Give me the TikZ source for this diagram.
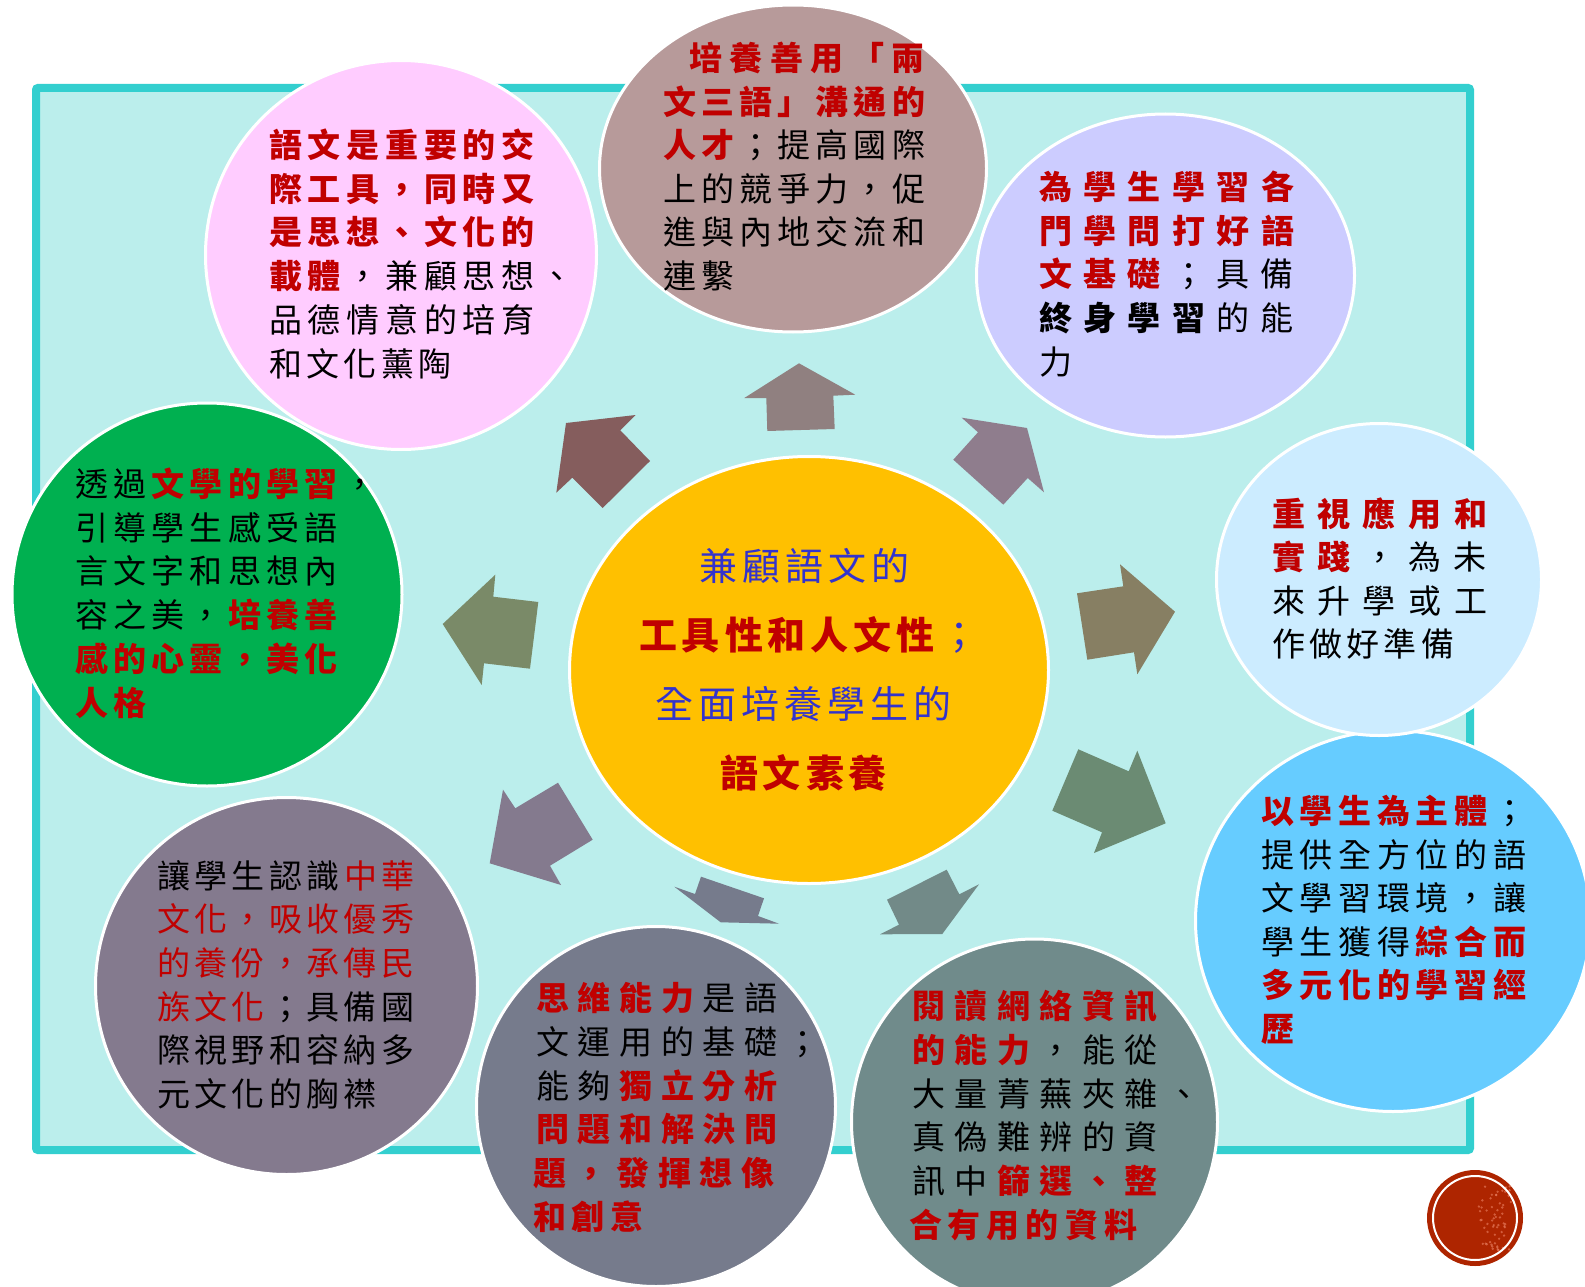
\documentclass[tikz,border=0pt]{standalone}
\usepackage{fontspec}
\usepackage{xcolor}
\usetikzlibrary{shapes.geometric}
\setmainfont{Noto Sans CJK TC}
\definecolor{txtred}{HTML}{C00000}
\definecolor{txtblue}{HTML}{3333CC}
\definecolor{panelfill}{HTML}{BBEEEC}
\definecolor{panelline}{HTML}{33CFCF}
\newlength\cpitch
\def\LSend{\LSend}
\def\LS#1{\LSi#1\LSend}
\def\LSi#1{\ifx#1\LSend\else\hbox to\cpitch{#1\hss}\expandafter\LSi\fi}
\newcommand\Rb[1]{{\color{txtred}\bfseries\LS{#1}}}
\newcommand\Rn[1]{{\color{txtred}\LS{#1}}}
\newcommand\Kn[1]{{\color{black}\LS{#1}}}
\newcommand\Kb[1]{{\color{black}\bfseries\LS{#1}}}
\newcommand\Bn[1]{{\color{txtblue}\LS{#1}}}
\newcommand\LN{\rule[-.12em]{0pt}{1em}}
\tikzset{
  x=1pt,y=-1pt,
  circ/.style={ellipse,draw=white,line width=3pt,inner sep=0pt,outer sep=0pt},
  tx/.style={anchor=north west,inner sep=0pt,outer sep=0pt,align=left,font=\fontsize{33pt}{#1pt}\selectfont},
  ctx/.style={anchor=north,inner sep=0pt,outer sep=0pt,align=center,font=\fontsize{38pt}{69pt}\selectfont},
}
\begin{document}
\begin{tikzpicture}
\useasboundingbox (0,0) rectangle (1585,1287);
% panel
\draw[draw=panelline,fill=panelfill,line width=8pt,rounded corners=2pt] (36,88) rectangle (1470,1150);
% block arrows
\fill[fill={rgb,255:red,133;green,93;blue,93}] (566,423)--(635.7,415)--(620.3,430.3)--(650,461)--(602.7,508)--(572.3,477.7)--(556.3,492.7)--cycle;
\fill[fill={rgb,255:red,122;green,138;blue,104}] (495.3,574.7)--(493.3,596.7)--(538.3,602)--(530,668.7)--(484,663.3)--(481.7,685)--(442.7,624)--cycle;
\fill[fill={rgb,255:red,144;green,128;blue,128}] (799,363.3)--(855.3,394.7)--(833.3,395.7)--(834.7,429)--(767.3,431)--(766.3,398)--(744.3,398)--cycle;
\fill[fill={rgb,255:red,143;green,125;blue,141}] (961.7,417.7)--(1027,428)--(1044,492.3)--(1027.7,478)--(1003.3,504.7)--(953.3,459.7)--(978,432.3)--cycle;
\fill[fill={rgb,255:red,135;green,127;blue,99}] (1120,564.3)--(1175,611.7)--(1137.3,674.3)--(1134,652.3)--(1087.3,659.7)--(1077,593.3)--(1123.3,586.3)--cycle;
\fill[fill={rgb,255:red,107;green,139;blue,115}] (1078.3,749.3)--(1128.7,771.3)--(1137.3,750.7)--(1165.7,823.3)--(1094,853)--(1102,832.3)--(1052.3,810.7)--cycle;
\fill[fill={rgb,255:red,114;green,138;blue,136}] (946.7,869.7)--(959.3,894.3)--(979,884.3)--(942.3,934)--(880,934.3)--(899,924.7)--(887,899.7)--cycle;
\fill[fill={rgb,255:red,118;green,123;blue,140}] (674.3,886.7)--(695,894)--(701,876.7)--(764,898.3)--(758,916)--(779,923.7)--(720.7,922.3)--cycle;
\fill[fill={rgb,255:red,132;green,122;blue,142}] (558,782.7)--(592.7,839.7)--(550,865.7)--(561,885)--(489.7,863.3)--(503,789.7)--(515.3,808.3)--cycle;
% circles
\node[circ,fill={rgb,255:red,0;green,176;blue,80},minimum width=390pt,minimum height=383pt] (green) at (207,594.5) {};
\node[circ,fill={rgb,255:red,255;green,204;blue,255},minimum width=391pt,minimum height=389pt] (pink) at (401,255) {};
\node[circ,fill={rgb,255:red,183;green,154;blue,154},minimum width=387pt,minimum height=327pt] (mauve) at (793,168.5) {};
\node[circ,fill={rgb,255:red,204;green,204;blue,255},minimum width=378pt,minimum height=323pt] (lav) at (1165.5,275.5) {};
\node[circ,fill={rgb,255:red,102;green,204;blue,255},minimum width=395pt,minimum height=381pt] (blue) at (1393,921) {};
\node[circ,fill={rgb,255:red,204;green,236;blue,255},minimum width=325pt,minimum height=312pt] (light) at (1379,579.5) {};
\node[circ,fill={rgb,255:red,112;green,139;blue,139},minimum width=366pt,minimum height=366pt] (teal) at (1034.5,1122) {};
\node[circ,fill={rgb,255:red,132;green,122;blue,142},minimum width=382pt,minimum height=377pt] (purple) at (286.5,986) {};
\node[circ,fill={rgb,255:red,118;green,123;blue,140},minimum width=359pt,minimum height=360pt] (slate) at (656,1106.5) {};
\node[circ,fill={rgb,255:red,255;green,192;blue,0},minimum width=479pt,minimum height=427pt] (gold) at (809,670) {};
% badge
\node[circle,fill={rgb,255:red,174;green,37;blue,0},minimum size=96pt,inner sep=0pt] (badge) at (1475,1218) {};
\pgfmathsetseed{7}
\foreach \i in {1,...,60}{
  \pgfmathsetmacro\dx{1496+18*rand}
  \pgfmathsetmacro\dy{1218+32*rand}
  \fill[fill={rgb,255:red,235;green,130;blue,100},opacity=.6] (\dx,\dy) circle (1.3pt);
}
\node[circle,draw=white,line width=2pt,minimum size=84pt,inner sep=0pt] (badgering) at (badge) {};
% texts
\setlength\cpitch{38.8pt}
\node[tx=43.7] (pinkt) at (269,128.5) {\LN\Rb{語文是重要的交}\\\LN\Rb{際工具，同時又}\\\LN\Rb{是思想、文化的}\\\LN\Rb{載體}\Kn{，兼顧思想、}\\\LN\Kn{品德情意的培育}\\\LN\setlength\cpitch{37.5pt}\Kn{和文化薰陶}};
\setlength\cpitch{38.2pt}
\node[tx=43.6] (mauvet) at (663,41.5) {\LN\hspace{26pt}\setlength\cpitch{40.6pt}\Rb{培養善用「兩}\\\LN\Rb{文三語」溝通的}\\\LN\Rb{人才}\Kn{；提高國際}\\\LN\Kn{上的競爭力，促}\\\LN\Kn{進與內地交流和}\\\LN\Kn{連繫}};
\setlength\cpitch{44.4pt}
\node[tx=43.7] (lavt) at (1039,170.5) {\LN\Rb{為學生學習各}\\\LN\Rb{門學問打好語}\\\LN\Rb{文基礎}\Kn{；具備}\\\LN\Kb{終身學習}\Kn{的能}\\\LN\Kn{力}};
\setlength\cpitch{45.5pt}
\node[tx=43.5] (lightt) at (1272,497) {\LN\Rb{重視應用和}\\\LN\Rb{實踐}\Kn{，為未}\\\LN\Kn{來升學或工}\\\LN\setlength\cpitch{37.3pt}\Kn{作做好準備}};
\setlength\cpitch{38.7pt}
\node[tx=43.6] (bluet) at (1261,794.5) {\LN\Rb{以學生為主體}\Kn{；}\\\LN\Kn{提供全方位的語}\\\LN\Kn{文學習環境，讓}\\\LN\Kn{學生獲得}\Rb{綜合而}\\\LN\Rb{多元化的學習經}\\\LN\Rb{歷}};
\setlength\cpitch{42.6pt}
\node[tx=43.8] (tealt) at (912,989.5) {\LN\Rb{閱讀網絡資訊}\\\LN\Rb{的能力}\Kn{，能從}\\\LN\Kn{大量菁蕪夾雜、}\\\LN\Kn{真偽難辨的資}\\\LN\Kn{訊中}\Rb{篩選、整}\\\LN\hspace{-3pt}\setlength\cpitch{39pt}\Rb{合有用的資料}};
\setlength\cpitch{41.7pt}
\node[tx=43.8] (slatet) at (536,981.5) {\LN\Rb{思維能力}\Kn{是語}\\\LN\Kn{文運用的基礎；}\\\LN\Kn{能夠}\Rb{獨立分析}\\\LN\Rb{問題和解決問}\\\LN\hspace{-3pt}\Rb{題，發揮想像}\\\LN\hspace{-3pt}\setlength\cpitch{39pt}\Rb{和創意}};
\setlength\cpitch{37.4pt}
\node[tx=43.7] (purplet) at (157,859) {\LN\Kn{讓學生認識}\Rn{中華}\\\LN\Rn{文化，吸收優秀}\\\LN\Rn{的養份，承傳民}\\\LN\Rn{族文化}\Kn{；具備國}\\\LN\Kn{際視野和容納多}\\\LN\Kn{元文化的胸襟}};
\setlength\cpitch{38.3pt}
\node[tx=43.7] (greent) at (75,467.5) {\LN\Kn{透過}\Rb{文學的學習}\Kn{，}\\\LN\Kn{引導學生感受語}\\\LN\Kn{言文字和思想內}\\\LN\Kn{容之美，}\Rb{培養善}\\\LN\Rb{感的心靈，美化}\\\LN\Rb{人格}};
\setlength\cpitch{43pt}
\node[ctx] (goldt) at (806,547) {\LN\hspace{2pt}\Bn{兼顧語文的}\\\LN\hspace{10pt}\Rb{工具性和人文性}\Bn{；}\\\LN\Bn{全面培養學生的}\\\LN\Rb{語文素養}};
\end{tikzpicture}
\end{document}
